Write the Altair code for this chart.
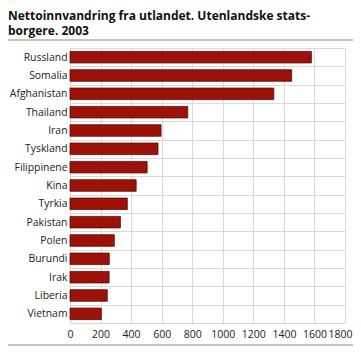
import altair as alt
import pandas as pd

countries = ["Russland", "Somalia", "Afghanistan", "Thailand", "Iran", "Tyskland",
             "Filippinene", "Kina", "Tyrkia", "Pakistan", "Polen", "Burundi",
             "Irak", "Liberia", "Vietnam"]
values = [1580, 1451, 1334, 771, 596, 576, 505, 433, 375, 330, 290, 257, 256, 244, 205]
x_ticks = [0, 200, 400, 600, 800, 1000, 1200, 1400, 1600, 1800]
title_lines = ["Nettoinnvandring fra utlandet. Utenlandske stats-", "borgere. 2003"]

df = pd.DataFrame({"land": countries, "verdi": values})
one = pd.DataFrame({"k": [0]})
FONT = "Open Sans"
LEFT = 62   # padding left (plot starts at 8 + LEFT)
TOP = 40
W, H = 275, 275

bars = alt.Chart(df).mark_bar(
    color="#9c1209", stroke="#5b0b06", strokeWidth=0.8, height={"band": 0.63}
).encode(
    y=alt.Y("land:N", sort=countries, title=None,
            scale=alt.Scale(paddingInner=0, paddingOuter=0),
            axis=alt.Axis(grid=True, tickBand="extent", ticks=False, domain=False,
                          labelFontSize=10.4, labelColor="#222222", labelFont=FONT,
                          labelPadding=3, gridColor="#d9d9d9", gridWidth=1)),
    x=alt.X("verdi:Q", title=None,
            scale=alt.Scale(domain=[0, 1800], nice=False),
            axis=alt.Axis(values=x_ticks, format="d", labelOverlap=False, labelFlush=False,
                          labelOffset={"condition": {"test": "datum.value == 1800", "value": -5},
                                       "value": 0},
                          grid=True, ticks=False, domain=False,
                          labelFontSize=10.5, labelColor="#222222", labelFont=FONT,
                          labelPadding=6, gridColor="#d9d9d9", gridWidth=1))
)

t1 = alt.Chart(one).mark_text(
    text=title_lines[0], font=FONT, fontSize=12, fontWeight="bold", color="#111111",
    align="left", baseline="alphabetic", clip=False
).encode(x=alt.value(-LEFT), y=alt.value(-28))
t2 = alt.Chart(one).mark_text(
    text=title_lines[1], font=FONT, fontSize=12, fontWeight="bold", color="#111111",
    align="left", baseline="alphabetic", clip=False
).encode(x=alt.value(-LEFT), y=alt.value(-13))

top_line = alt.Chart(one).mark_rule(color="#c4c4c4", strokeWidth=2, clip=False).encode(
    x=alt.value(-LEFT), x2=alt.value(W + 8), y=alt.value(-8)
)
bottom_line = alt.Chart(one).mark_rule(color="#c4c4c4", strokeWidth=2, clip=False).encode(
    x=alt.value(-LEFT), x2=alt.value(W + 8), y=alt.value(H + 22)
)

chart = alt.layer(bars, top_line, bottom_line, t1, t2).properties(
    width=W, height=H,
    autosize=alt.AutoSizeParams(type="none"),
    padding={"left": LEFT, "top": TOP, "right": 8, "bottom": 24},
).configure_view(stroke=None).configure(background="white")

chart.save("out.html", embed_options={"renderer": "svg", "actions": False})
